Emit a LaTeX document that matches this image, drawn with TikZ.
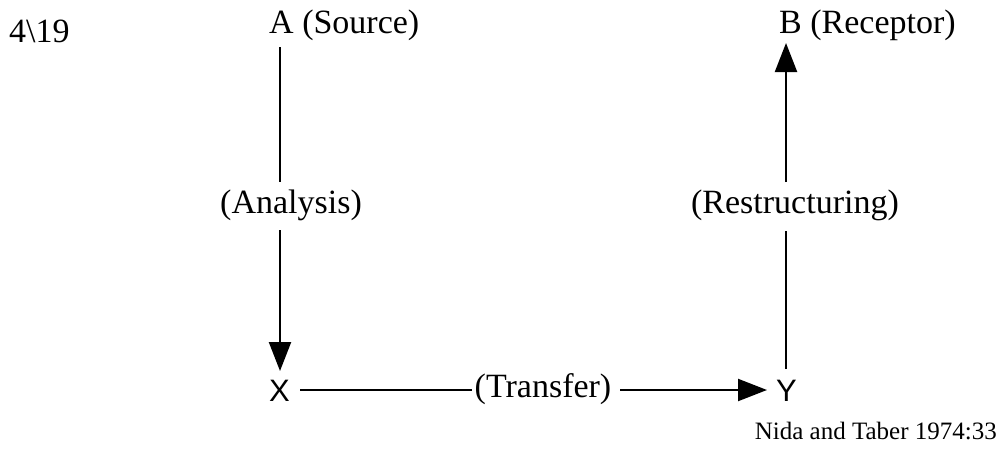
\documentclass[tikz,border=0pt]{standalone}
\usepackage{fontspec}
\setmainfont{Liberation Serif}
\newfontfamily\xysans{Liberation Sans}
\usetikzlibrary{arrows.meta}

\tikzset{
  lbl/.style={inner sep=0pt, font=\fontsize{34}{40}\selectfont},
  sanslbl/.style={inner sep=0pt, font=\xysans\fontsize{31}{37}\selectfont},
  citelbl/.style={inner sep=0pt, font=\fontsize{25}{30}\selectfont},
  conn/.style={line width=2.2pt},
  arr/.style={conn, -{Triangle[length=29pt, width=22pt]}}
}

\begin{document}
\begin{tikzpicture}[x=1pt, y=-1pt]
  \useasboundingbox (0,0) rectangle (1003,455);

  % labels
  \node[lbl, anchor=base west] (num) at (9,42) {4\textbackslash 19};
  \node[lbl, anchor=base west] (A) at (269,33) {A (Source)};
  \node[lbl, anchor=base west] (B) at (779,33) {B (Receptor)};
  \node[lbl, anchor=base] (an) at (291,213) {(Analysis)};
  \node[lbl, anchor=base] (re) at (795,213) {(Restructuring)};
  \node[lbl, anchor=base] (tr) at (543,397) {(Transfer)};
  \node[sanslbl, anchor=base west] (X) at (269,401) {X};
  \node[sanslbl, anchor=base west] (Y) at (776,401) {Y};
  \node[citelbl, anchor=base east] (src) at (997,439) {Nida and Taber 1974:33};

  % connector ends
  \coordinate (a1) at (280,47);
  \coordinate (a2) at (280,182);
  \coordinate (a3) at (280,230);
  \coordinate (a4) at (280,371);
  \coordinate (h1) at (300,390);
  \coordinate (h2) at (472,390);
  \coordinate (h3) at (620,390);
  \coordinate (h4) at (767,390);
  \coordinate (r1) at (786,369);
  \coordinate (r2) at (786,231);
  \coordinate (r3) at (786,182);
  \coordinate (r4) at (786,43);

  % Analysis: A down to X
  \draw[conn] (a1) -- (a2);
  \draw[arr] (a3) -- (a4);
  % Transfer: X across to Y
  \draw[conn] (h1) -- (h2);
  \draw[arr] (h3) -- (h4);
  % Restructuring: Y up to B
  \draw[conn] (r1) -- (r2);
  \draw[arr] (r3) -- (r4);
\end{tikzpicture}
\end{document}
